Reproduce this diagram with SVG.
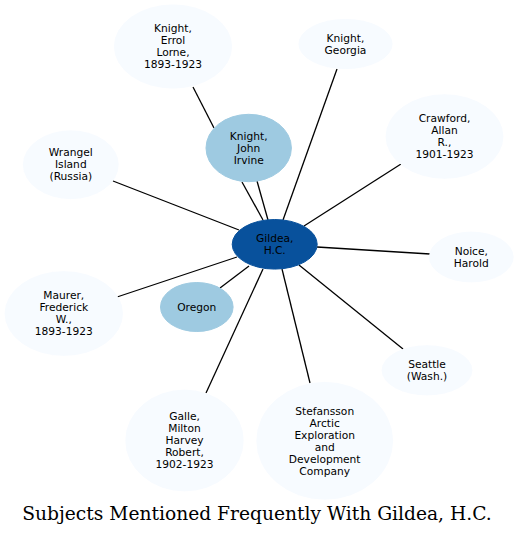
<svg xmlns="http://www.w3.org/2000/svg" width="518" height="536" viewBox="0 0 518 536">
<style>
.l{fill:#f7fbff;stroke:#f7fbff}
.m{fill:#9ecae1;stroke:#9ecae1}
.d{fill:#08519c;stroke:#08519c}
text{font-family:"DejaVu Sans",sans-serif;font-size:10.67px;text-anchor:middle;fill:#000}
.t{font-family:"DejaVu Serif",serif;font-size:18.67px}
#edges line{stroke:#000;stroke-width:1.3}
</style>
<rect width="518" height="536" fill="#fff"/>
<g id="edges">
<line x1="193" y1="87" x2="214" y2="128"/>
<line x1="337" y1="69" x2="283" y2="220"/>
<line x1="242" y1="182" x2="263" y2="220"/>
<line x1="257" y1="181" x2="268" y2="220"/>
<line x1="401" y1="164" x2="304" y2="226"/>
<line x1="113" y1="181" x2="239" y2="230"/>
<line x1="317" y1="247" x2="430" y2="254"/>
<line x1="117" y1="297" x2="237" y2="257"/>
<line x1="220" y1="288" x2="249" y2="266"/>
<line x1="263" y1="269" x2="206" y2="393"/>
<line x1="282" y1="269" x2="310" y2="383"/>
<line x1="299" y1="265" x2="403" y2="349"/>
</g>
<g id="n_errol"><ellipse class="l" cx="173" cy="46.5" rx="58.5" ry="41.5"/><text x="173" y="32">Knight,</text><text x="173" y="44">Errol</text><text x="173" y="56">Lorne,</text><text x="173" y="68">1893-1923</text></g>
<g id="n_georgia"><ellipse class="l" cx="345.5" cy="44" rx="46.5" ry="24.5"/><text x="345.5" y="41.5">Knight,</text><text x="345.5" y="53.5">Georgia</text></g>
<g id="n_john"><ellipse class="m" cx="248.7" cy="148" rx="42.7" ry="33.7"/><text x="248.7" y="139.5">Knight,</text><text x="248.7" y="151.5">John</text><text x="248.7" y="163.5">Irvine</text></g>
<g id="n_crawford"><ellipse class="l" cx="444.5" cy="136.5" rx="58.3" ry="41.7"/><text x="444.5" y="122">Crawford,</text><text x="444.5" y="134">Allan</text><text x="444.5" y="146">R.,</text><text x="444.5" y="158">1901-1923</text></g>
<g id="n_wrangel"><ellipse class="l" cx="70.8" cy="164.7" rx="47.3" ry="33.8"/><text x="70.8" y="156">Wrangel</text><text x="70.8" y="168">Island</text><text x="70.8" y="180">(Russia)</text></g>
<g id="n_gildea"><ellipse class="d" cx="274.7" cy="244.3" rx="42.5" ry="24.8"/><text x="274.7" y="241.5">Gildea,</text><text x="274.7" y="253.5">H.C.</text></g>
<g id="n_noice"><ellipse class="l" cx="471.3" cy="257" rx="41.8" ry="24.8"/><text x="471.3" y="254.5">Noice,</text><text x="471.3" y="266.5">Harold</text></g>
<g id="n_oregon"><ellipse class="m" cx="196.8" cy="307" rx="36.3" ry="24.5"/><text x="196.8" y="310.5">Oregon</text></g>
<g id="n_maurer"><ellipse class="l" cx="63.8" cy="313.5" rx="58.6" ry="41.8"/><text x="63.8" y="299">Maurer,</text><text x="63.8" y="311">Frederick</text><text x="63.8" y="323">W.,</text><text x="63.8" y="335">1893-1923</text></g>
<g id="n_seattle"><ellipse class="l" cx="427" cy="370.3" rx="44.8" ry="24.5"/><text x="427" y="367.5">Seattle</text><text x="427" y="379.5">(Wash.)</text></g>
<g id="n_galle"><ellipse class="l" cx="184.5" cy="440.5" rx="58.6" ry="50.3"/><text x="184.5" y="420">Galle,</text><text x="184.5" y="432">Milton</text><text x="184.5" y="444">Harvey</text><text x="184.5" y="456">Robert,</text><text x="184.5" y="468">1902-1923</text></g>
<g id="n_stef"><ellipse class="l" cx="324.7" cy="440.8" rx="67.8" ry="58.3"/><text x="324.7" y="414.5">Stefansson</text><text x="324.7" y="426.5">Arctic</text><text x="324.7" y="438.5">Exploration</text><text x="324.7" y="450.5">and</text><text x="324.7" y="462.5">Development</text><text x="324.7" y="474.5">Company</text></g>
<text class="t" x="257" y="520">Subjects Mentioned Frequently With Gildea, H.C.</text>
</svg>
